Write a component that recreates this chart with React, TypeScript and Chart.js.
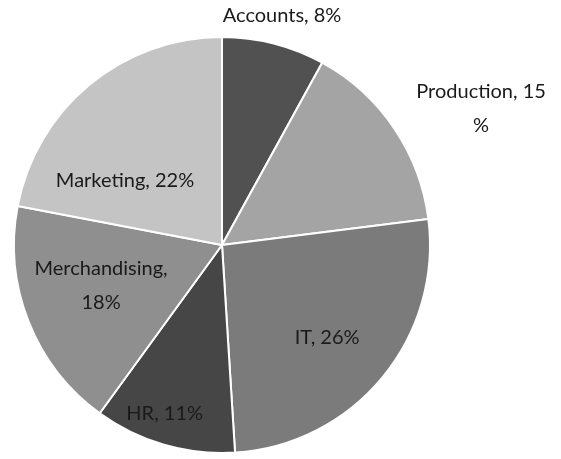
import React, { useEffect, useRef } from "react";
import { Chart, registerables } from "chart.js";

Chart.register(...registerables);

const categories = ["Accounts", "Production", "IT", "HR", "Merchandising", "Marketing"];
const shares = [8, 15, 26, 11, 18, 22];
const labelLines = [
  ["Accounts, 8%"],
  ["Production, 15", "%"],
  ["IT, 26%"],
  ["HR, 11%"],
  ["Merchandising,", "18%"],
  ["Marketing, 22%"],
];
const sliceColors = ["#515151", "#a4a4a4", "#7b7b7b", "#464646", "#8f8f8f", "#c4c4c4"];
// label placement: radius factor and angle offset (deg) relative to slice mid-angle
const labelRadius = [1.138, 1.408, 0.675, 0.855, 0.613, 0.561];
const labelAngleOffset = [0.3, 6.4, 1.9, 2.6, 3.1, -16.6];

const labelPlugin = {
  id: "sliceLabels",
  afterDatasetsDraw(chart: any) {
    const ctx = chart.ctx;
    const meta = chart.getDatasetMeta(0);
    ctx.save();
    ctx.font = "20px Lato";
    ctx.fillStyle = "#1a1a1a";
    ctx.textAlign = "center";
    ctx.textBaseline = "middle";
    const lh = 34;
    meta.data.forEach((arc: any, i: number) => {
      const { x, y, startAngle, endAngle, outerRadius } = arc.getProps(
        ["x", "y", "startAngle", "endAngle", "outerRadius"],
        true
      );
      const mid = (startAngle + endAngle) / 2 + (labelAngleOffset[i] * Math.PI) / 180;
      const r = outerRadius * labelRadius[i];
      const cx = x + Math.cos(mid) * r;
      const cy = y + Math.sin(mid) * r;
      const lines = labelLines[i];
      const y0 = cy - ((lines.length - 1) * lh) / 2;
      lines.forEach((t, k) => ctx.fillText(t, cx, y0 + k * lh));
    });
    ctx.restore();
  },
};

export default function App() {
  const ref = useRef<HTMLCanvasElement>(null);
  useEffect(() => {
    document.body.style.margin = "0";
    const chart = new Chart(ref.current!, {
      type: "pie",
      data: {
        labels: categories,
        datasets: [
          {
            data: shares,
            backgroundColor: sliceColors,
            borderColor: "#ffffff",
            borderWidth: 2,
          },
        ],
      },
      options: {
        animation: false,
        responsive: false,
        layout: { padding: { left: 13, right: 130, top: 36, bottom: 5 } },
        plugins: {
          legend: { display: false },
          tooltip: { enabled: false },
        },
      },
      plugins: [labelPlugin],
    });
    return () => chart.destroy();
  }, []);
  return (
    <div style={{ width: 561, height: 459, background: "#ffffff" }}>
      <canvas ref={ref} width={561} height={459} />
    </div>
  );
}
